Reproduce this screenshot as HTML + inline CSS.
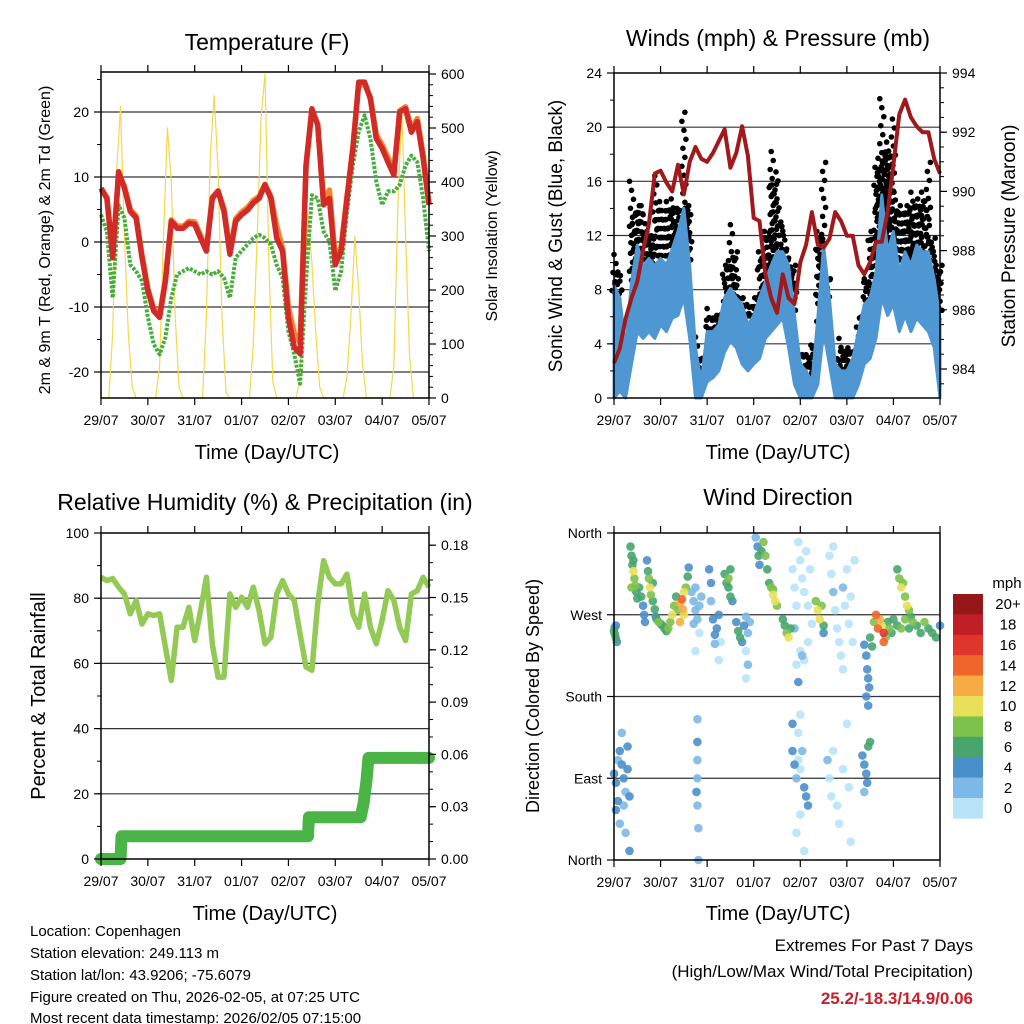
<!DOCTYPE html>
<html><head><meta charset="utf-8"><title>Station Meteogram</title>
<style>
html,body{margin:0;padding:0;background:#fff;}
svg{display:block;font-family:"Liberation Sans",Arial,sans-serif;}
</style></head>
<body>
<svg id="fig" xmlns="http://www.w3.org/2000/svg" width="1024" height="1024" viewBox="0 0 1024 1024">
<rect x="0" y="0" width="1024" height="1024" fill="#fff"/>
<!-- titles -->
<text x="267" y="50" font-size="23" text-anchor="middle">Temperature (F)</text>
<text x="778" y="46" font-size="23" text-anchor="middle">Winds (mph) &amp; Pressure (mb)</text>
<text x="265" y="510" font-size="23" text-anchor="middle">Relative Humidity (%) &amp; Precipitation (in)</text>
<text x="778" y="505" font-size="23" text-anchor="middle">Wind Direction</text>
<!-- axis titles -->
<text x="267" y="459" font-size="20" text-anchor="middle">Time (Day/UTC)</text>
<text x="778" y="459" font-size="20" text-anchor="middle">Time (Day/UTC)</text>
<text x="265" y="920" font-size="20" text-anchor="middle">Time (Day/UTC)</text>
<text x="778" y="920" font-size="20" text-anchor="middle">Time (Day/UTC)</text>
<text transform="translate(50,240) rotate(-90)" font-size="16" text-anchor="middle">2m &amp; 9m T (Red, Orange) &amp; 2m Td (Green)</text>
<text transform="translate(497,236) rotate(-90)" font-size="16" text-anchor="middle">Solar Insolation (Yellow)</text>
<text transform="translate(562,236) rotate(-90)" font-size="19" text-anchor="middle">Sonic Wind &amp; Gust (Blue, Black)</text>
<text transform="translate(1015,236) rotate(-90)" font-size="19" text-anchor="middle">Station Pressure (Maroon)</text>
<text transform="translate(45,696) rotate(-90)" font-size="20" text-anchor="middle">Percent &amp; Total Rainfall</text>
<text transform="translate(539,696) rotate(-90)" font-size="18" text-anchor="middle">Direction (Colored By Speed)</text>
<!-- footer -->
<g font-size="15">
<text x="30" y="936">Location: Copenhagen</text>
<text x="30" y="958">Station elevation: 249.113 m</text>
<text x="30" y="980">Station lat/lon: 43.9206; -75.6079</text>
<text x="30" y="1002">Figure created on Thu, 2026-02-05, at 07:25 UTC</text>
<text x="30" y="1023">Most recent data timestamp: 2026/02/05 07:15:00</text>
</g>
<g font-size="17" text-anchor="end">
<text x="973" y="951">Extremes For Past 7 Days</text>
<text x="973" y="977">(High/Low/Max Wind/Total Precipitation)</text>
<text x="973" y="1004" fill="#c8202a" font-weight="bold">25.2/-18.3/14.9/0.06</text>
</g>
<!-- colorbar label -->
<text x="1007" y="588" font-size="15" text-anchor="middle">mph</text>
<g id="layer"></g>
</svg>
<script>
// ---------- data ----------
const dayLabels = ['29/07','30/07','31/07','01/07','02/07','03/07','04/07','05/07'];
const sampleStepHours = 3;
const temp2m = [8.3,6.7,-2.4,10.8,8.3,4.7,3.7,-2.4,-7.5,-10.6,-11.6,-6,3.2,2.1,2.1,2.9,2.7,0.6,-1.4,6.7,7.8,4.7,-1.9,3.2,4.2,4.9,6,6.7,8.8,6.7,0.6,-1.4,-11.6,-16.2,-17.2,11.8,20.5,18,5.7,6.7,-3.5,-1.4,6.7,14.4,24.6,24.6,22,15.9,14.4,12.3,10.3,20,20.5,16.9,18.5,12.9,5.7];
const temp9m = [8.0,6.9,-1.9,10.5,8.6,5.0,4.0,-2.0,-7.2,-10.2,-11.2,-5.8,3.4,2.5,2.4,3.2,3.1,1.0,-1.0,6.9,7.9,5.1,-1.5,3.6,4.6,5.3,6.4,7.0,8.9,7.0,2.5,-1.0,-10.0,-14.0,-15.5,11.5,20.2,18.2,6.5,8.0,-2.5,-0.8,7.0,14.6,24.2,24.2,22.3,16.5,15.0,13.0,11.0,20.2,20.8,17.5,19.0,13.5,6.0];
const dewpoint = [4.2,1.6,-8.6,5.7,3.7,-3.5,-4.5,-6,-11.6,-15.7,-17.3,-14.7,-8.6,-5,-4.5,-4,-4.5,-5,-4.5,-5,-4.5,-5.5,-8.6,-2.4,-1.4,-0.4,0.6,1.1,0.6,-0.4,-3.5,-5.5,-13.7,-17.3,-21.8,-6,7.2,6.7,1.6,0.1,-7.5,-4.5,4.7,11.8,17,19.5,15.9,9.3,5.7,7.8,7.8,8.8,11.8,13.3,12.3,6.7,-1.4];
const solarStepHours = 2;
const solar = [0,0,0,120,420,540,300,120,20,0,0,0,
 0,0,0,60,300,500,400,150,20,0,0,0,
 0,0,0,150,450,560,420,150,10,0,0,0,
 0,0,0,100,300,520,600,250,30,0,0,0,
 0,0,0,40,200,340,250,120,20,0,0,0,
 0,0,0,40,150,300,200,60,0,0,0,0,
 0,0,0,60,350,540,300,80,0,0,0,0,0];
const windHigh = [8.3,7.4,3.7,8.6,11.3,9.8,10.3,9.8,10.3,9.8,11,12.3,14,9.8,3.7,1.2,4.9,4.9,5.4,7.4,8.1,7.4,6.9,5.4,6.1,7.4,8.6,9.8,10.8,10.8,9.8,6.1,2.5,2,1.2,5.9,11.3,7.4,2.5,2,2,2.9,4.9,6.9,7.4,9.3,15,10.8,12.3,9.3,10.8,9.8,11.3,10.8,10.8,8.8,5.9];
const windLow = [0,0.5,0,2.5,4.9,4.4,4.9,4.4,5.4,4.9,5.9,6.1,7.4,4.4,0,0,1.2,1.5,2,3.4,4.2,3.7,2.5,2,2.5,2.9,4.4,4.9,5.4,5.9,3.7,1,0,0,0,1,4.9,2.5,0,0,0,0,1,2.5,2.9,4.4,7.4,6.1,6.9,4.9,6.1,4.9,5.9,5.4,4.9,3.7,0];
const gust = [10.6,9.3,3.7,16,14.2,14.2,12.3,16.4,14.5,14.5,14.7,14,21.1,14.2,4.5,2.9,6.6,5.9,6.1,9.8,12.8,10.8,7.4,6.9,7.4,10.8,12.3,18.2,16.7,13,11,9.8,3.2,3.2,3.9,12.3,17.4,8.8,2.9,4.4,3.7,3.4,5.9,8.8,12.3,17.7,22.1,18.9,20.6,14.2,14.2,15.2,14.7,15.2,17.4,11.8,9.8];
const pressure = [984.2,984.7,985.7,986.4,986.95,988,988.9,990.6,990.7,990.3,990,990.9,989.9,991,991.5,991.1,991,991.3,991.7,992.1,990.8,991.3,992.2,991.2,989.1,989,987.2,986.4,985.9,987.2,986.4,986.2,987.6,988.2,989.3,988.2,988.1,988.4,989.3,989,988.5,988.5,987.5,987.2,987.6,988.3,988.3,989.3,990.9,992.6,993.1,992.5,992.2,992,992,991.1,990.6];
const rh = [86.4,85.4,86,83.4,81.3,75.2,79.3,72.1,75.2,74.7,75.2,65,54.8,71.1,71.1,77.2,67,76.2,86.4,66,55.8,55.8,81.3,77.2,80.3,77.2,83.4,76.2,66,68,81.3,85.4,81.3,79.3,69,58.9,57.9,78.3,91.5,86.4,84.4,84.4,87.4,75.2,71.1,81.3,71.1,66,73.2,82.3,79.3,71.1,67,81.3,82.3,86.4,83.4];
const precipHours = [0,10,10.5,106,106.5,133,134.5,136,137,168];
const precipTotal = [0,0,0.013,0.013,0.024,0.024,0.032,0.045,0.058,0.058];
// wind direction observations: hour, direction (deg), speed (mph)
const dirHours = [0,0.5,1,1.5,0.3,1, 8.5,9,9.5,10,10.5,11,11.5,12,9,10, 13,14,15,15.5,16, 17,17.5,18,18.5,19,20,21,21.5,20, 22,23,24,25,26,27,28,29, 30,31,32,33,34,35,35.5,36,37,36,38,34,38.5, 40,41,42,43,44,45,42,41,44,42, 49,50,50,51,52,52,53,54,55,54, 57,58,59,60,60,61,59, 63,64,65,66,67,68,69,70,68,69,68, 73,74,74.5,75,76,77,78,79,80, 81,82,83,84,82, 87,88,89,90,91, 92,93,94,95,96,97,98,99,100,101,102,94,96,98,100,95,97,93, 104,105,106,107,108,108, 111,112,113,114,115,116,117,118,119,120,121,122,123,124,113,118, 129,130,130.5,131,131.5,130,131,132,133, 128,129,130,130.5,131,132,129, 134,135,136,137,138,139,140,141,142,143,144,146,148,150,152,154,156,158,160,162,164,166,168,139, 146,147,148,149,150,151,152,153, 0,1,2,3,4,5,6,7,8,5,3,6,8,4,7,2,1, 43,43,42.5,43,43.5,43,43,43.5, 92,93,94,95,96,97,98,99,100,96,94,98,95,96,92, 110,111,112,113,115,116,118,120,121,122];
const dirDegrees = [252,248,244,240,256,258, 345,335,325,318,310,302,295,288,300,330, 300,290,280,270,262, 330,318,310,300,292,285,276,268,305, 265,262,260,258,255,252,255,262, 270,280,290,275,283,287,276,295,300,270,312,262,322, 295,285,275,265,280,290,300,260,250,230, 320,305,285,265,248,238,255,270,240,220, 315,305,300,290,320,285,310, 262,252,245,240,258,268,250,262,230,215,200, 355,345,335,325,340,350,335,320,305, 300,292,285,280,298, 265,258,250,245,255, 320,300,280,350,330,310,295,340,280,320,260,215,230,220,240,196,225,255, 285,275,265,280,258,250, 335,315,295,275,255,240,225,300,280,320,260,290,240,330,345,210, 237,225,210,200,190,180,170,245,235, 115,105,95,85,125,130,75, 262,270,255,265,258,250,245,262,255,250,265,258,255,265,255,262,258,250,262,255,250,245,258,240, 320,310,300,305,290,280,275,268, 95,85,110,120,105,90,75,100,70,60,40,30,10,140,125,65,55, 110,90,75,60,35,130,155,0, 120,105,90,110,100,120,80,70,60,50,30,10,140,160,150, 110,90,70,120,60,40,100,150,80,20];
const dirSpeeds = [6,7,6,5,4,4, 6,7,6,10,9,8,7,6,8,6, 6,7,5,5,4, 4,6,9,10,8,6,6,5,7, 7,8,7,6,7,6,8,8, 10,8,7,9,12,14,12,10,8,11,6,12,4, 2,2,2,2,2,2,2,2,1,0, 4,4,3,4,4,3,4,4,1,1, 6,7,6,6,6,4,9, 4,6,6,4,4,3,3,2,1,2,1, 3,4,6,4,6,8,8,6,7, 9,10,10,9,8, 7,6,8,10,6, 1,1,0,0,1,0,1,0,0,1,0,1,1,0,0,4,2,2, 8,10,10,8,6,4, 1,1,2,1,0,1,0,2,1,1,0,1,0,0,0,1, 4,4,4,4,4,4,4,6,6, 4,4,4,4,6,6,3, 8,14,14,12,10,16,8,6,8,6,6,6,8,8,6,8,6,6,8,6,6,6,5,14, 6,8,10,8,8,10,8,6, 4,4,2,4,4,4,2,4,4,2,2,2,4,2,4,4,4, 2,2,4,2,2,4,2,2, 4,4,2,1,1,2,4,4,4,1,1,1,1,1,4, 2,1,1,0,1,1,1,1,0,0];
const speedBinLabels = ['0','2','4','6','8','10','12','14','16','18','20+'];
const speedBinColors = ['#b9e3f8','#7db9e6','#4b8fca','#48a56e','#7dc24d','#e8e05a','#f7ab45','#f0652b','#e0352c','#c01f28','#961719'];
const tempTicks = [-20,-10,0,10,20];
const solarTicks = [0,100,200,300,400,500,600];
const windTicks = [0,4,8,12,16,20,24];
const pressTicks = [984,986,988,990,992,994];
const rhTicks = [0,20,40,60,80,100];
const precipTicks = [0,0.03,0.06,0.09,0.12,0.15,0.18];
const dirTickLabels = ['North','East','South','West','North'];
const dirTickValues = [0,90,180,270,360];

// ---------- helpers ----------
const NS = 'http://www.w3.org/2000/svg';
const layer = document.getElementById('layer');
function mk(tag, attrs, parent) {
  const e = document.createElementNS(NS, tag);
  for (const k in attrs) e.setAttribute(k, attrs[k]);
  (parent || layer).appendChild(e);
  return e;
}
const P1 = {x0:101, x1:429, y0:72, y1:398};
const P2 = {x0:614, x1:940, y0:73, y1:398};
const P3 = {x0:101, x1:429, y0:533, y1:859};
const P4 = {x0:614, x1:940, y0:533, y1:860};
const xScale = (P, h) => P.x0 + h / 168 * (P.x1 - P.x0);
const yTemp = v => 242 - v * 6.5;
const ySolar = v => 398 - v * 0.54;
const yWind = v => 398 - v * (325 / 24);
const yPress = v => 369 - (v - 984) * 29.6;
const yRH = v => 859 - v * 3.26;
const yPrecip = v => 859 - v / 0.03 * 52.3;
const yDir = v => 860 - v / 360 * 327;
function pts(P, arr, step, ys) { return arr.map((v, i) => xScale(P, i * step).toFixed(1) + ',' + ys(v).toFixed(1)).join(' '); }

// ---------- frames, grids, ticks ----------
function gridLines(P, vals, ys, name) {
  vals.forEach(v => {
    const y = ys(v);
    if (y <= P.y0 + 1 || y >= P.y1 - 1) return;
    const g = mk('line', {x1:P.x0, x2:P.x1, y1:y, y2:y, stroke:'#333', 'stroke-width':1.2});
    
    
  });
}
gridLines(P1, tempTicks, yTemp, 'temp');
gridLines(P2, windTicks, yWind, 'wind');
gridLines(P3, rhTicks, yRH, 'rh');
gridLines(P4, dirTickValues, yDir, 'dir');

function leftTicks(P, vals, labels, ys, name, minorStep, lo, hi) {
  if (minorStep) for (let v = lo; v <= hi + 1e-9; v += minorStep) {
    const y = ys(v); if (y < P.y0 - 0.5 || y > P.y1 + 0.5) continue;
    const m = mk('line', {x1:P.x0 - 4, x2:P.x0, y1:y, y2:y, stroke:'#000', 'stroke-width':1});
    
    
  }
  vals.forEach((v, i) => {
    const y = ys(v);
    const t = mk('line', {x1:P.x0 - 7, x2:P.x0, y1:y, y2:y, stroke:'#000', 'stroke-width':1.2});
    
    
    const l = mk('text', {x:P.x0 - 12, y:y + 5, 'font-size':14, 'text-anchor':'end'});
    l.textContent = labels[i];
    
    
  });
}
function rightTicks(P, vals, labels, ys, name, minorStep, lo, hi) {
  if (minorStep) for (let v = lo; v <= hi + 1e-9; v += minorStep) {
    const y = ys(v); if (y < P.y0 - 0.5 || y > P.y1 + 0.5) continue;
    const m = mk('line', {x1:P.x1, x2:P.x1 + 4, y1:y, y2:y, stroke:'#000', 'stroke-width':1});
    
    
  }
  vals.forEach((v, i) => {
    const y = ys(v);
    const t = mk('line', {x1:P.x1, x2:P.x1 + 7, y1:y, y2:y, stroke:'#000', 'stroke-width':1.2});
    
    
    const l = mk('text', {x:P.x1 + 12, y:y + 5, 'font-size':14});
    l.textContent = labels[i];
    
    
  });
}
function timeTicks(P, name) {
  dayLabels.forEach((d, i) => {
    const x = xScale(P, i * 24);
    const t = mk('line', {x1:x, x2:x, y1:P.y1, y2:P.y1 + 7, stroke:'#000', 'stroke-width':1.2});
    
    
    const tt = mk('line', {x1:x, x2:x, y1:P.y0, y2:P.y0 - 7, stroke:'#000', 'stroke-width':1.2});
    
    
    const l = mk('text', {x:x, y:P.y1 + 27, 'font-size':14, 'text-anchor':'middle'});
    l.textContent = d;
    
    
  });
}
function frame(P, name) {
  const r = mk('rect', {x:P.x0, y:P.y0, width:P.x1 - P.x0, height:P.y1 - P.y0, fill:'none', stroke:'#000', 'stroke-width':1.5});
  
  
}

// ---------- panel 1: temperature ----------
const solarLine = mk('polyline', {points:pts(P1, solar, solarStepHours, ySolar), fill:'none', stroke:'#f6d84a', 'stroke-width':1.2, 'stroke-linejoin':'round'});


const t9 = mk('polyline', {points:pts(P1, temp9m, sampleStepHours, yTemp), fill:'none', stroke:'#f2862e', 'stroke-width':5.5, 'stroke-linejoin':'round'});


const td = mk('polyline', {points:pts(P1, dewpoint, sampleStepHours, yTemp), fill:'none', stroke:'#47ad3f', 'stroke-width':4, 'stroke-dasharray':'3 1.5', 'stroke-linejoin':'round'});


const t2 = mk('polyline', {points:pts(P1, temp2m, sampleStepHours, yTemp), fill:'none', stroke:'#d22a27', 'stroke-width':5.5, 'stroke-linejoin':'round'});


frame(P1, 'temp');
leftTicks(P1, tempTicks, tempTicks.map(String), yTemp, 'temp-y', 5, -25, 25);
rightTicks(P1, solarTicks, solarTicks.map(String), ySolar, 'solar-y', 20, 0, 600);
timeTicks(P1, 'temp');

// ---------- panel 2: winds ----------
const bandPts = windHigh.map((v, i) => xScale(P2, i * sampleStepHours).toFixed(1) + ',' + yWind(v).toFixed(1))
  .concat(windLow.map((v, i) => xScale(P2, i * sampleStepHours).toFixed(1) + ',' + yWind(v).toFixed(1)).reverse()).join(' ');
const sub = 4;
let dotCount = 0;
for (let i = 0; i < gust.length; i++) {
  for (let s = 0; s < (i < gust.length - 1 ? sub : 1); s++) {
    const f = s / sub;
    const j = Math.min(i + 1, gust.length - 1);
    const h = (i + f) * sampleStepHours;
    const hi = windHigh[i] + (windHigh[j] - windHigh[i]) * f;
    const g = (s === 0) ? gust[i] : Math.min(gust[i], gust[j]) * 0.85 + hi * 0.15;
    const x = xScale(P2, h);
    for (let y = yWind(g); y <= yWind(hi) + 6; y += 9) {
      dotCount++;
      const dx = ((dotCount * 7) % 5) - 2;
      const d = mk('circle', {cx:(x + dx).toFixed(1), cy:y.toFixed(1), r:2.8, fill:'#000'});
      
      
    }
  }
}
const band = mk('polygon', {points:bandPts, fill:'#4f97d2', stroke:'#4f97d2', 'stroke-width':3, 'stroke-linejoin':'round'});


const pl = mk('polyline', {points:pts(P2, pressure, sampleStepHours, yPress), fill:'none', stroke:'#a0191c', 'stroke-width':4, 'stroke-linejoin':'round'});


frame(P2, 'wind');
leftTicks(P2, windTicks, windTicks.map(String), yWind, 'wind-y', 2, 0, 24);
rightTicks(P2, pressTicks, pressTicks.map(String), yPress, 'pressure-y', 0.5, 983, 994);
timeTicks(P2, 'wind');

// ---------- panel 3: RH & precip ----------
const prPts = precipHours.map((h, i) => xScale(P3, h).toFixed(1) + ',' + yPrecip(precipTotal[i]).toFixed(1)).join(' ');
const pr = mk('polyline', {points:prPts, fill:'none', stroke:'#4bb447', 'stroke-width':12, 'stroke-linecap':'round', 'stroke-linejoin':'round'});


const rl = mk('polyline', {points:pts(P3, rh, sampleStepHours, yRH), fill:'none', stroke:'#93c955', 'stroke-width':5.5, 'stroke-linejoin':'round'});


frame(P3, 'rh');
leftTicks(P3, rhTicks, rhTicks.map(String), yRH, 'rh-y', 10, 0, 100);
rightTicks(P3, precipTicks, precipTicks.map(v => v.toFixed(2)), yPrecip, 'precip-y', 0.01, 0, 0.185);
timeTicks(P3, 'rh');

// ---------- panel 4: wind direction ----------
const order = dirSpeeds.map((s, i) => i).sort((a, b) => dirSpeeds[a] - dirSpeeds[b]);
order.forEach(i => {
  const bin = Math.min(10, Math.floor(dirSpeeds[i] / 2));
  const c = mk('circle', {cx:xScale(P4, dirHours[i]).toFixed(1), cy:yDir(dirDegrees[i]).toFixed(1), r:4.3, fill:speedBinColors[bin], 'fill-opacity':0.9});
  
  
});
frame(P4, 'dir');
leftTicks(P4, dirTickValues, dirTickLabels, yDir, 'dir-y', 0, 0, 0);
timeTicks(P4, 'dir');

// colorbar
const cbTop = 594, cbH = 20.4;
speedBinColors.slice().reverse().forEach((col, k) => {
  const r = mk('rect', {x:953, y:(cbTop + k * cbH).toFixed(1), width:30, height:cbH + 0.3, fill:col});
  
  
  const t = mk('text', {x:1008, y:(cbTop + k * cbH + cbH / 2 + 5).toFixed(1), 'font-size':15, 'text-anchor':'middle'});
  t.textContent = speedBinLabels[10 - k];
  
  
});
</script>
</body></html>
